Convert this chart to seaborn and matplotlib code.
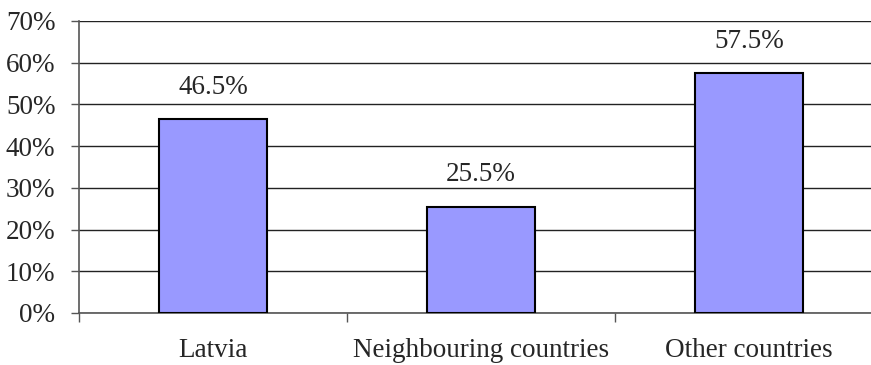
import matplotlib
matplotlib.use("Agg")
import matplotlib.pyplot as plt
import seaborn as sns
import pandas as pd
from matplotlib.ticker import FixedLocator, PercentFormatter

categories = ["Latvia", "Neighbouring countries", "Other countries"]
values = [46.5, 25.5, 57.5]
value_labels = ["46.5%", "25.5%", "57.5%"]
y_ticks = [0, 10, 20, 30, 40, 50, 60, 70]

sns.set_style("white")
plt.rcParams["font.family"] = ["Liberation Serif", "DejaVu Serif"]

df = pd.DataFrame({"category": categories, "value": values})

FS = 19.5

fig = plt.figure(figsize=(8.71, 3.65), dpi=100)
ax = fig.add_axes([79 / 871, 1 - 313 / 365, 804 / 871, 292 / 365])

sns.barplot(data=df, x="category", y="value", ax=ax, color="#9999FF",
            saturation=1, width=0.4, edgecolor="black", linewidth=1.5, zorder=3)

ax.set_xlim(-0.5, 2.5)
ax.set_ylim(0, 70)
ax.set_yticks(y_ticks)
ax.yaxis.set_major_formatter(PercentFormatter(decimals=0))
ax.yaxis.grid(True, color="#222222", linewidth=1.0, zorder=0)
ax.set_axisbelow(True)

for s in ["top", "right"]:
    ax.spines[s].set_visible(False)
for s in ["left", "bottom"]:
    ax.spines[s].set_color("#555555")
    ax.spines[s].set_linewidth(1.2)

ax.tick_params(axis="y", direction="out", length=6, width=1, color="#555555",
               labelsize=FS, pad=11, left=True)
ax.set_xticks([0, 1, 2])
ax.set_xticklabels(categories)
ax.tick_params(axis="x", length=0, labelsize=FS, pad=18)
ax.xaxis.set_minor_locator(FixedLocator([-0.5, 0.5, 1.5]))
ax.tick_params(axis="x", which="minor", direction="out", length=6.5, width=1,
               color="#555555", bottom=True)

for i, (v, lab) in enumerate(zip(values, value_labels)):
    ax.annotate(lab, (i, v), xytext=(0, 14), textcoords="offset points",
                ha="center", va="bottom", fontsize=FS)

ax.set_xlabel("")
ax.set_ylabel("")
fig.savefig("out.png", dpi=100)
